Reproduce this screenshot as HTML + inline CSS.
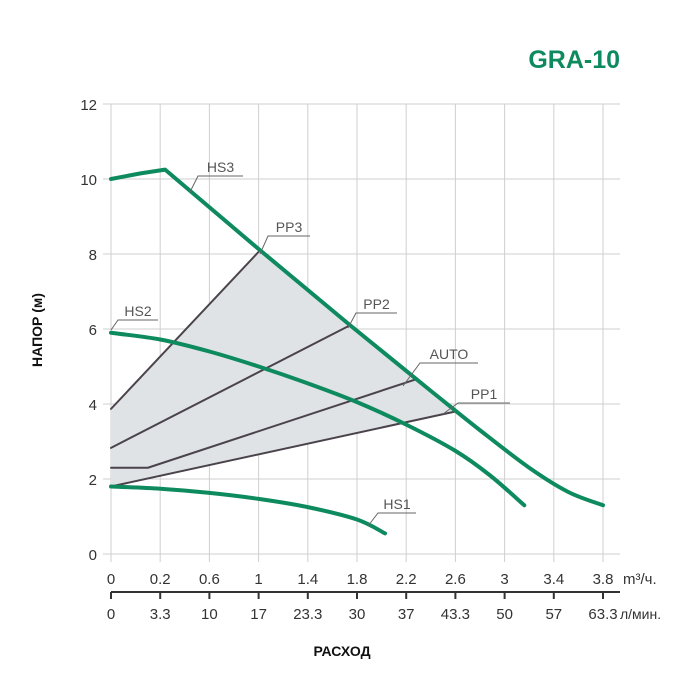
<!DOCTYPE html>
<html><head><meta charset="utf-8"><style>
body{margin:0;background:#fff;}
svg{display:block;font-family:"Liberation Sans",sans-serif;}
</style></head><body>
<svg id="c" width="700" height="689" viewBox="0 0 700 689">
<text x="620" y="68" text-anchor="end" font-size="25" font-weight="bold" fill="#0e8a5f">GRA-10</text>
<text transform="translate(42,330) rotate(-90)" text-anchor="middle" font-size="14" font-weight="bold" fill="#111">НАПОР (м)</text>
<text x="342" y="656" text-anchor="middle" font-size="14" font-weight="bold" fill="#111">РАСХОД</text>
<g id="grid"></g><g id="area"></g><g id="lines"></g><g id="labels"></g>
</svg>
<script>
const xTicks1=["0","0.2","0.6","1","1.4","1.8","2.2","2.6","3","3.4","3.8"];
const xTicks2=["0","3.3","10","17","23.3","30","37","43.3","50","57","63.3"];
const yTicks=[0,2,4,6,8,10,12];
// x in tick-index units, y in metres
const hs3X=[0,0.6,1.1,3.03,4.86,6.5,7.5,8.5,9.3,10];
const hs3Y=[10,10.15,10.25,8.1,6.1,4.35,3.3,2.3,1.65,1.3];
const hs2X=[0,1,2,3,4,5,6,7,7.7,8.4];
const hs2Y=[5.9,5.72,5.4,5.0,4.55,4.05,3.45,2.75,2.1,1.3];
const hs1X=[0,1,2,3,4,5,5.57];
const hs1Y=[1.8,1.74,1.63,1.47,1.25,0.92,0.55];
const pp3X=[0,3.03],pp3Y=[3.87,8.1];
const pp2X=[0,4.86],pp2Y=[2.83,6.1];
const autoX=[0,0.75,6.18],autoY=[2.3,2.3,4.65];
const pp1X=[0,7],pp1Y=[1.8,3.8];
const X=i=>111+i*49.2, Y=v=>554-v*37.5;
const NS="http://www.w3.org/2000/svg";
function mk(p,t,a){const e=document.createElementNS(NS,t);for(const k in a)e.setAttribute(k,a[k]);document.getElementById(p).appendChild(e);return e;}
xTicks1.forEach((t,i)=>{
 let l=mk('grid','line',{x1:X(i),x2:X(i),y1:104,y2:562,stroke:'#cfcfcf'});
 
 
 let tx=mk('grid','text',{x:X(i),y:584,'text-anchor':'middle','font-size':15,fill:'#333'});tx.textContent=t;
 
 
 let tk=mk('grid','line',{x1:X(i),x2:X(i),y1:592,y2:599,stroke:'#333','stroke-width':2});
 
 
 let t2=mk('grid','text',{x:X(i),y:619,'text-anchor':'middle','font-size':15,fill:'#333'});t2.textContent=xTicks2[i];
 
 
});
let ax=mk('grid','line',{x1:111,x2:620,y1:592,y2:592,stroke:'#333','stroke-width':2});


let u1=mk('grid','text',{x:623,y:584,'font-size':15,fill:'#333'});u1.textContent='m³/ч.';


let u2=mk('grid','text',{x:620,y:619,'font-size':14,fill:'#333'});u2.textContent='л/мин.';


yTicks.forEach(v=>{
 let l=mk('grid','line',{x1:103,x2:620,y1:Y(v),y2:Y(v),stroke:'#cfcfcf'});
 
 
 let t=mk('grid','text',{x:97,y:Y(v)+6,'text-anchor':'end','font-size':15,fill:'#333'});t.textContent=v;
 
 
});
function smooth(pts,linUntil){
 let d='M'+pts[0][0]+','+pts[0][1];
 for(let i=0;i<pts.length-1;i++){
  const p1=pts[i],p2=pts[i+1];
  if(i<linUntil){d+='L'+p2[0]+','+p2[1];continue;}
  const p0=(i>linUntil?pts[i-1]:null)||[2*p1[0]-p2[0],2*p1[1]-p2[1]],p3=pts[i+2]||p2;
  const c1=[p1[0]+(p2[0]-p0[0])/6,p1[1]+(p2[1]-p0[1])/6];
  const c2=[p2[0]-(p3[0]-p1[0])/6,p2[1]-(p3[1]-p1[1])/6];
  d+=`C${c1[0]},${c1[1]} ${c2[0]},${c2[1]} ${p2[0]},${p2[1]}`;
 }
 return d;
}
// shaded area
let pts=[[X(pp3X[0]),Y(pp3Y[0])],[X(pp3X[1]),Y(pp3Y[1])]];
hs3X.forEach((x,i)=>{if(x>pp3X[1]&&x<pp1X[1])pts.push([X(x),Y(hs3Y[i])]);});
pts.push([X(pp1X[1]),Y(pp1Y[1])],[X(pp1X[0]),Y(pp1Y[0])]);
let ar=mk('area','polygon',{points:pts.map(p=>p.join(',')).join(' '),fill:'#dfe3e6'});


function path(xs,ys,col,w,name,lin){
 const P=xs.map((x,i)=>[X(x),Y(ys[i])]);
 const d=smooth(P,lin);
 let p=mk('lines','path',{d:d,fill:'none',stroke:col,'stroke-width':w,'stroke-linejoin':'round','stroke-linecap':'round'});
 
 
}
path(pp3X,pp3Y,'#4a434b',2,'line-pp3',99);
path(pp2X,pp2Y,'#4a434b',2,'line-pp2',99);
path(autoX,autoY,'#4a434b',2,'line-auto',99);
path(pp1X,pp1Y,'#4a434b',2,'line-pp1',99);
path(hs3X,hs3Y,'#0e8a5f',4,'curve-hs3',5);
path(hs2X,hs2Y,'#0e8a5f',4,'curve-hs2',0);
path(hs1X,hs1Y,'#0e8a5f',4,'curve-hs1',0);
function lab(txt,x1,y1,x2,y2,x3,name){
 let l=mk('labels','polyline',{points:`${x1},${y1} ${x2},${y2} ${x3},${y2}`,fill:'none',stroke:'#666','stroke-width':1});
 
 
 let t=mk('labels','text',{x:(x2+x3)/2,y:y2-4,'text-anchor':'middle','font-size':14,fill:'#555'});t.textContent=txt;
 
 
}
lab('HS3',190,192,198,176,243,'label-hs3');
lab('PP3',260,254,268,236,310,'label-pp3');
lab('PP2',348,328,356,313,397,'label-pp2');
lab('AUTO',403,386,420,363,478,'label-auto');
lab('PP1',443,414,458,403,510,'label-pp1');
lab('HS2',111,330,118,320,158,'label-hs2');
lab('HS1',368,526,378,513,416,'label-hs1');
</script>
</body></html>
